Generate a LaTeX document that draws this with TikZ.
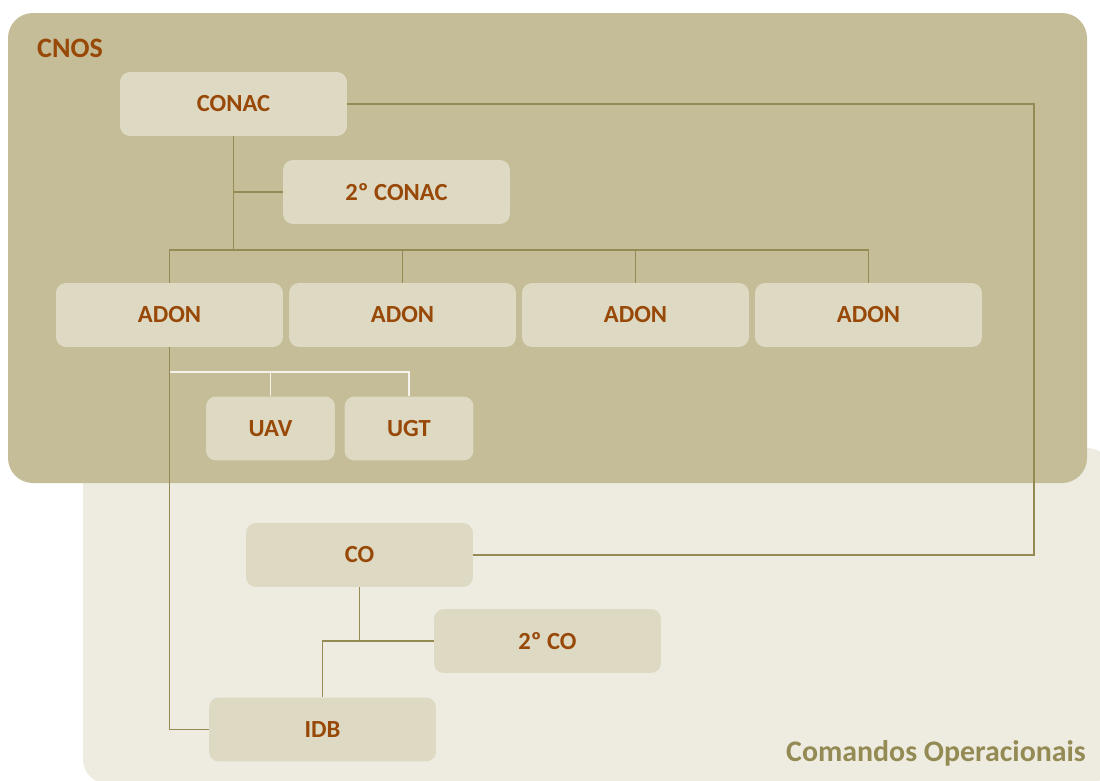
\documentclass[tikz,border=0pt]{standalone}
\usepackage{fontspec}
\setmainfont{Carlito}
\usetikzlibrary{positioning}
\definecolor{cnosbg}{HTML}{C4BD97}
\definecolor{cobg}{HTML}{EEECE1}
\definecolor{boxbg}{HTML}{DDD9C3}
\definecolor{txtbrown}{HTML}{984807}
\definecolor{olive}{HTML}{948A54}
\definecolor{paleline}{HTML}{F4F2EA}
\begin{document}
\begin{tikzpicture}[x=0.02cm,y=-0.02cm,
  unit/.style={rectangle,rounded corners=0.2cm,fill=boxbg,minimum width=4.54cm,minimum height=1.28cm,
    font=\fontsize{14}{16}\selectfont\bfseries,text=txtbrown,inner sep=0pt},
  smallunit/.style={unit,minimum width=2.58cm},
  link/.style={draw=olive,line width=1.1pt},
  sublink/.style={draw=paleline,line width=1.1pt}]
\useasboundingbox (0,0) rectangle (1100,781);
\clip (0,0) rectangle (1100,781);
\fill[white] (0,0) rectangle (1100,781);

% areas
\fill[cobg,rounded corners=0.5cm] (83,448) rectangle (1112,784);
\fill[cnosbg,rounded corners=0.5cm] (8,13) rectangle (1087,483);
\node[font=\fontsize{16}{18}\selectfont\bfseries,text=txtbrown,anchor=west] (cnos) at (31,48) {CNOS};
\node[font=\fontsize{17}{19}\selectfont\bfseries,text=olive,anchor=east] (coms) at (1092,753) {Comandos Operacionais};

% units
\node[unit] (conac) at (233.5,104) {CONAC};
\node[unit] (conac2) at (396.5,192) {2º CONAC};
\node[unit] (adon1) at (169.5,315) {ADON};
\node[unit] (adon2) at (402.5,315) {ADON};
\node[unit] (adon3) at (635.5,315) {ADON};
\node[unit] (adon4) at (868.5,315) {ADON};
\node[smallunit] (uav) at (270.5,428.5) {UAV};
\node[smallunit] (ugt) at (409,428.5) {UGT};
\node[unit] (co) at (359.5,555) {CO};
\node[unit] (co2) at (547.5,641) {2º CO};
\node[unit] (idb) at (322.5,729.5) {IDB};

% links
\coordinate (rt) at (1034,104);
\coordinate (bus) at (233.5,250);
\coordinate (ub) at (169.5,372);
\draw[link] (conac.east) -- (rt) |- (co.east);
\draw[link] (conac.south) -- (bus);
\draw[link] (conac.south |- conac2.west) -- (conac2.west);
\draw[link] (adon1.north) -- (adon1.north |- bus) -- (adon4.north |- bus) -- (adon4.north);
\foreach \n in {adon2,adon3}
  \draw[link] (\n.north) -- (\n.north |- bus);
\draw[sublink] (ub) -| (ugt.north);
\draw[sublink] (uav.north) -- (uav.north |- ub);
\draw[link] (adon1.south) |- (idb.west);
\draw[link] (co.south) |- (co2.west);
\draw[link] (idb.north) |- (co.south |- co2.west);

\end{tikzpicture}
\end{document}
